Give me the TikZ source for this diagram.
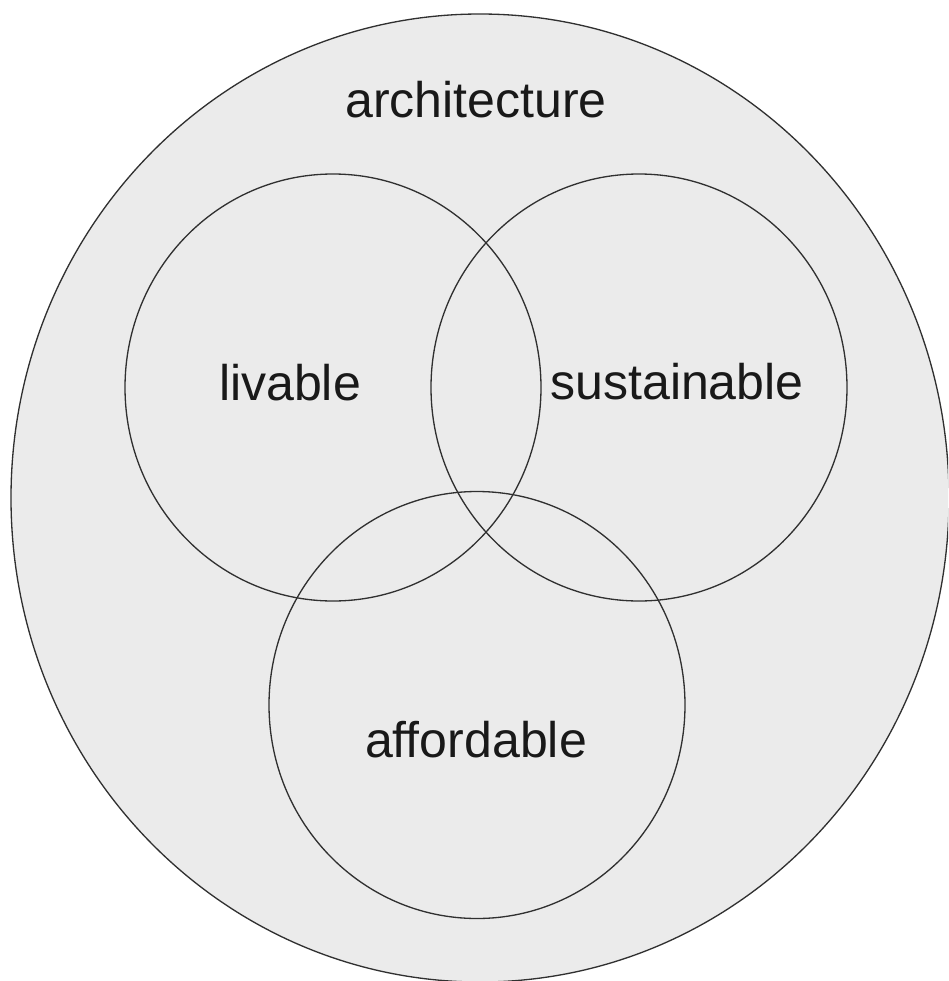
\documentclass[tikz,border=0pt]{standalone}
\usepackage{fontspec}
\setmainfont{Liberation Sans}
\usepackage{tikz}

\definecolor{fieldgray}{HTML}{EBEBEB}
\definecolor{inkgray}{HTML}{303030}

\tikzset{
  ring/.style={draw=inkgray, line width=0.75pt},
  word/.style={anchor=base, text=black!90, font=\fontsize{28.5}{34}\selectfont, inner sep=0pt}
}

\begin{document}
\begin{tikzpicture}[x=0.02cm, y=0.02cm]
\useasboundingbox (0,0) rectangle (948,-981);
\clip (0,0) rectangle (948,-981);
% outer field
\draw [ring, fill=fieldgray] (480,-498) ellipse [x radius=469, y radius=484];
% the three sets
\draw [ring] (333,-387.5) ellipse [x radius=208, y radius=213.5];
\draw [ring] (639,-387.5) ellipse [x radius=208, y radius=213.5];
\draw [ring] (477,-705) ellipse [x radius=208, y radius=213.5];
% labels
\node [word] (arch) at (476,-117) {architecture};
\node [word] (liv) at (290,-400) {livable};
\node [word] (sus) at (677,-399) {sustainable};
\node [word] (aff) at (476,-757) {affordable};
\end{tikzpicture}
\end{document}
